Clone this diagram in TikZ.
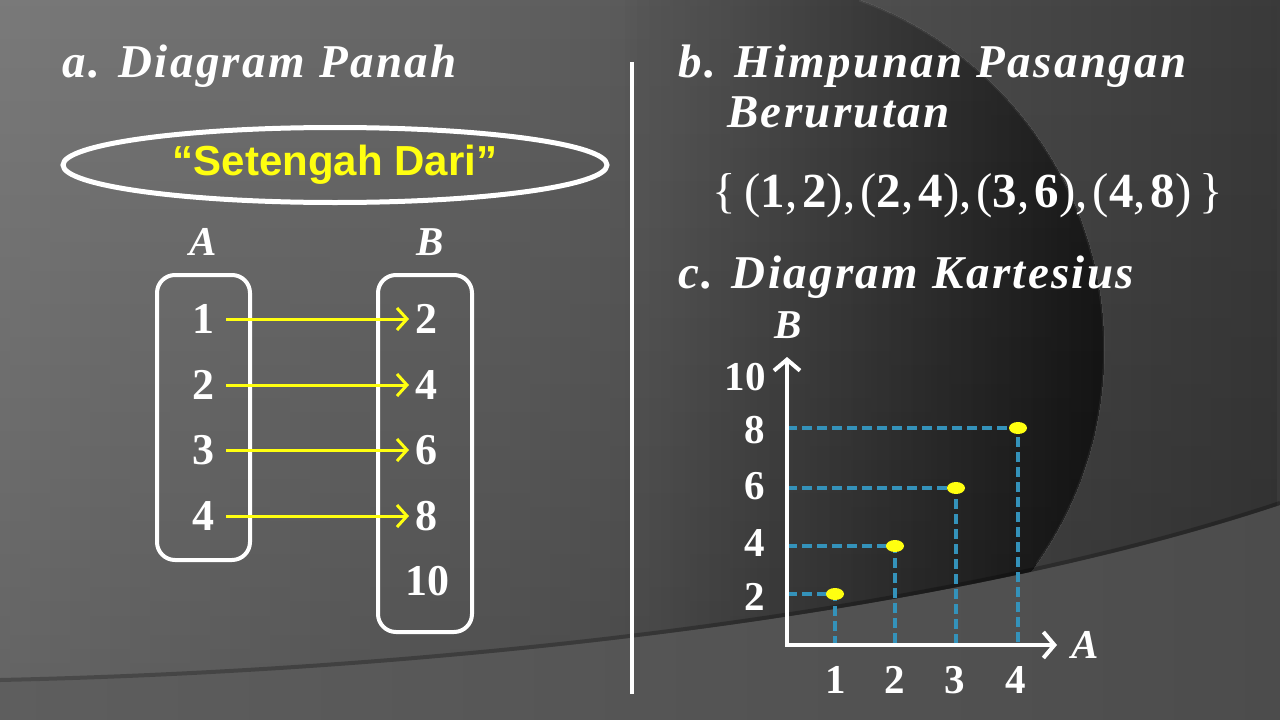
\documentclass[tikz,border=0pt]{standalone}
\usepackage{fontspec}
\setmainfont{Liberation Serif}
\newfontfamily\arialfont{Liberation Sans}
\usetikzlibrary{arrows.meta,shapes.geometric,fadings}
\definecolor{bgA}{HTML}{7A7A7A}
\definecolor{bgB}{HTML}{545454}
\definecolor{bgC}{HTML}{3A3A3A}
\definecolor{bandA}{HTML}{5E5E5E}
\definecolor{bandB}{HTML}{4C4C4C}
\definecolor{yel}{HTML}{FFFF10}
\definecolor{dashblue}{HTML}{3492BA}
\tikzfading[name=vfade, top color=transparent!100, bottom color=transparent!40]
\newcommand\tup[2]{{\mdseries(}#1{\mdseries,}\hspace{5pt}#2{\mdseries)}}
\begin{document}
\begin{tikzpicture}[x=1pt,y=-1pt,
  title/.style={text=white, font=\fontsize{47}{52}\selectfont\bfseries\itshape\addfontfeature{LetterSpace=5}, anchor=base west, inner sep=0pt},
  num/.style={text=white, font=\fontsize{44}{48}\selectfont\bfseries, inner sep=1pt},
  cnum/.style={text=white, font=\fontsize{41}{45}\selectfont\bfseries, inner sep=1pt},
  setlbl/.style={text=white, font=\fontsize{41}{45}\selectfont\bfseries\itshape, inner sep=1pt},
  setnode/.style={text=white, font=\fontsize{49}{54}\selectfont\bfseries, inner sep=0pt},
  box/.style={draw=white, line width=4pt, rounded corners=18pt, inner sep=0pt},
  oval/.style={ellipse, draw=white, line width=5pt, inner sep=0pt, minimum width=544pt, minimum height=75pt, text=yel, font=\arialfont\bfseries\fontsize{42}{46}\selectfont},
  maparrow/.style={draw=yel, line width=3pt, -{Straight Barb[length=10pt,width=22pt]}},
  axisln/.style={draw=white, line width=4pt, {Straight Barb[length=11pt,width=26pt]}-{Straight Barb[length=11pt,width=26pt]}},
  dashln/.style={draw=dashblue, line width=3.5pt, dash pattern=on 10pt off 5pt},
  pt/.style={ellipse, fill=yel, minimum width=18pt, minimum height=12pt, inner sep=0pt},
  divider/.style={draw=white, line width=4pt}
]
% background
\useasboundingbox (0,0) rectangle (1280,720);
\shade[left color=bgA, middle color=bgB, right color=bgC] (0,0) rectangle (1280,720);
\fill[black, opacity=0.3, path fading=vfade] (0,0) rectangle (1280,720);
\begin{scope}
  \clip (732,350) circle[radius=372];
  \foreach \i in {0,...,39} {
    \fill[black, fill opacity=0.012] ({625+\i*12},0) rectangle (1110,720);
  }
\end{scope}
\draw[white, opacity=0.06, line width=2pt] (732,350) ++(-70:372) arc[start angle=-70, end angle=35, radius=372];
\shade[left color=bandA, right color=bandB] (0,682) .. controls (450,672) and (950,615) .. (1280,505) -- (1280,720) -- (0,720) -- cycle;
\draw[black, opacity=0.25, line width=4pt] (0,680) .. controls (450,670) and (950,613) .. (1280,503);

% divider
\coordinate (dtop) at (632,62);
\coordinate (dbot) at (632,694);
\draw[divider] (dtop) -- (dbot);

% titles
\node[title] (ta) at (62,77) {a. Diagram Panah};
\node[title] (tb) at (678,77) {b. Himpunan Pasangan};
\node[title] (tb2) at (727,127) {Berurutan};
\node[title] (tc) at (678,288) {c. Diagram Kartesius};

% set of ordered pairs
\node[setnode] (set) at (968,196) {{\mdseries\{}\hspace{8pt}\tup12{\mdseries,}\hspace{5pt}\tup24{\mdseries,}\hspace{5pt}\tup36{\mdseries,}\hspace{5pt}\tup48\hspace{8pt}{\mdseries\}}};

% arrow diagram
\node[oval] (ell) at (335,165) {“Setengah Dari”};
\node[setlbl] (lA) at (203,242) {A};
\node[setlbl] (lB) at (430,242) {B};
\node[box, minimum width=93pt, minimum height=285pt] (boxA) at (203.5,417.5) {};
\node[box, minimum width=94pt, minimum height=357pt] (boxB) at (425,453.5) {};

\node[num] (a1) at (203,319) {1};
\node[num] (a2) at (203,385) {2};
\node[num] (a3) at (203,450) {3};
\node[num] (a4) at (203,516) {4};
\node[num] (b2) at (426,319) {2};
\node[num] (b4) at (426,385) {4};
\node[num] (b6) at (426,450) {6};
\node[num] (b8) at (426,516) {8};
\node[num] (b10) at (427,581) {10};

\draw[maparrow] ([xshift=23pt]a1.center) -- ([xshift=-17pt]b2.center);
\draw[maparrow] ([xshift=23pt]a2.center) -- ([xshift=-17pt]b4.center);
\draw[maparrow] ([xshift=23pt]a3.center) -- ([xshift=-17pt]b6.center);
\draw[maparrow] ([xshift=23pt]a4.center) -- ([xshift=-17pt]b8.center);

% cartesian diagram
\coordinate (O) at (787,645);
\coordinate (ytop) at (787,357);
\coordinate (xend) at (1057,645);
\coordinate (c1) at (835,594);
\coordinate (c2) at (895,546);
\coordinate (c3) at (956,488);
\coordinate (c4) at (1018,428);
\draw[dashln] (O |- c1) -- (c1) -- (c1 |- O);
\draw[dashln] (O |- c2) -- (c2) -- (c2 |- O);
\draw[dashln] (O |- c3) -- (c3) -- (c3 |- O);
\draw[dashln] (O |- c4) -- (c4) -- (c4 |- O);
\draw[axisln] (ytop) -- (O) -- (xend);
\node[pt] (p1) at (c1) {};
\node[pt] (p2) at (c2) {};
\node[pt] (p3) at (c3) {};
\node[pt] (p4) at (c4) {};

\node[setlbl] (cB) at (788,325) {B};
\node[setlbl] (cA) at (1085,645) {A};
\node[cnum] (y10) at (745,377) {10};
\node[cnum] (y8) at (755,430) {8};
\node[cnum] (y6) at (755,486) {6};
\node[cnum] (y4) at (755,543) {4};
\node[cnum] (y2) at (755,597) {2};
\node[cnum] (x1) at (836,680) {1};
\node[cnum] (x2) at (895,680) {2};
\node[cnum] (x3) at (955,680) {3};
\node[cnum] (x4) at (1016,680) {4};
\end{tikzpicture}
\end{document}
